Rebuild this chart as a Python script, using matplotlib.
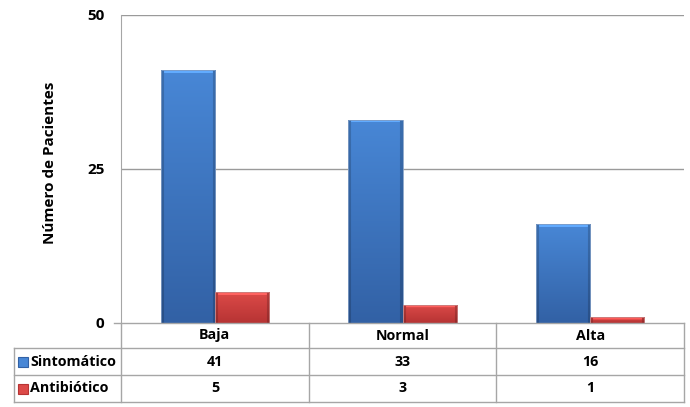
import numpy as np
import matplotlib
matplotlib.use("Agg")
import matplotlib.pyplot as plt
from matplotlib.colors import to_rgb
from matplotlib.patches import Rectangle
from matplotlib.lines import Line2D

plt.rcParams['font.family'] = ['Open Sans', 'DejaVu Sans']
plt.rcParams['font.weight'] = 'bold'

# data
categories = ["Baja", "Normal", "Alta"]
series_names = ["Sintomático", "Antibiótico"]
sintomatico = [41, 33, 16]
antibiotico = [5, 3, 1]

# (top, bottom) fill colours of each series
BLUE = ("#4887d6", "#3261a5")
RED = ("#dc4a48", "#b73434")
GRID = "#9a9a9a"
TABLE = "#a6a6a6"
FS = 10.3

W, H = 690, 407
L, R, T, B = 121, 684, 15, 323  # plot area in pixels

fig = plt.figure(figsize=(W / 100, H / 100), dpi=100)
ax = fig.add_axes([L / W, 1 - B / H, (R - L) / W, (B - T) / H])
px_per_unit = (B - T) / 50.0
px_per_x = (R - L) / 3.0


def shade_bar(patch, colors):
    x0, y0 = patch.get_x(), patch.get_y()
    w, h = patch.get_width(), patch.get_height()
    nx = max(int(round(w * px_per_x)), 2)
    ny = max(int(round(h * px_per_unit)), 2)
    top, bot = np.array(to_rgb(colors[0])), np.array(to_rgb(colors[1]))
    t = np.linspace(0, 1, ny)[:, None, None]
    img = top * (1 - t) + bot * t
    img = np.repeat(img, nx, axis=1)
    # darker bevel on the sides, lighter bevel on top
    e = 3
    img[:, :e] *= 0.82
    img[:, -e:] *= 0.82
    img[:e, e:-e] = np.clip(img[:e, e:-e] * 1.18 + 0.05, 0, 1)
    im = ax.imshow(img, extent=[x0, x0 + w, y0, y0 + h], aspect="auto",
                   interpolation="bilinear", zorder=2)
    im.set_clip_path(patch)


x = np.arange(len(categories))
bw = 0.288
b1 = ax.bar(x - bw / 2, sintomatico, bw, color="none", edgecolor="#7f9cc4",
            linewidth=0.6, zorder=4)
b2 = ax.bar(x + bw / 2, antibiotico, bw, color="none", edgecolor="#c88080",
            linewidth=0.6, zorder=4)
for p in b1:
    shade_bar(p, BLUE)
for p in b2:
    shade_bar(p, RED)

ax.set_xlim(-0.5, len(categories) - 0.5)
ax.set_ylim(0, 50)
ax.set_yticks([0, 25, 50])
ax.set_xticks([])
for v in [25, 50]:
    ax.axhline(v, color=GRID, lw=1, zorder=1)
ax.tick_params(axis="y", length=0, pad=12, labelsize=11)
for s in ["top", "right", "bottom"]:
    ax.spines[s].set_visible(False)
ax.spines["left"].set_color(TABLE)
ax.set_ylabel("Número de Pacientes", fontsize=11, fontweight="bold")
ax.yaxis.set_label_coords(-(L - 57) / (R - L), 0.52)


# data table below the plot, drawn in pixel coordinates
def px(xp, yp):
    return xp / W, 1 - yp / H


def hline(y, x0, x1):
    (a, b), (c, _) = px(x0, y), px(x1, y)
    fig.add_artist(Line2D([a, c], [b, b], color=TABLE, lw=1))


def vline(xp, y0, y1):
    (a, b), (_, d) = px(xp, y0), px(xp, y1)
    fig.add_artist(Line2D([a, a], [b, d], color=TABLE, lw=1))


rows = [323, 348, 375, 402]
cols = [L + (R - L) * i / 3 for i in range(4)]
hline(rows[0], 114, R)
for y in rows[1:]:
    hline(y, 14, R)
for c in cols:
    vline(c, rows[0], rows[-1])
vline(14, rows[1], rows[-1])

for i, cat in enumerate(categories):
    cx = (cols[i] + cols[i + 1]) / 2
    fig.text(*px(cx, (rows[0] + rows[1]) / 2), cat, ha="center", va="center",
             fontsize=FS)
    for r, vals in enumerate([sintomatico, antibiotico]):
        fig.text(*px(cx, (rows[r + 1] + rows[r + 2]) / 2), str(vals[i]),
                 ha="center", va="center", fontsize=FS)

for r, (name, cols_) in enumerate(zip(series_names, [BLUE, RED])):
    yc = (rows[r + 1] + rows[r + 2]) / 2
    kx, ky = px(18, yc + 5)
    key = Rectangle((kx, ky), 10 / W, 10 / H, transform=fig.transFigure,
                    facecolor=cols_[0], edgecolor=cols_[1], lw=0.8)
    fig.add_artist(key)
    fig.text(*px(30, yc), name, ha="left", va="center", fontsize=FS)

fig.savefig("out.png", dpi=100)
